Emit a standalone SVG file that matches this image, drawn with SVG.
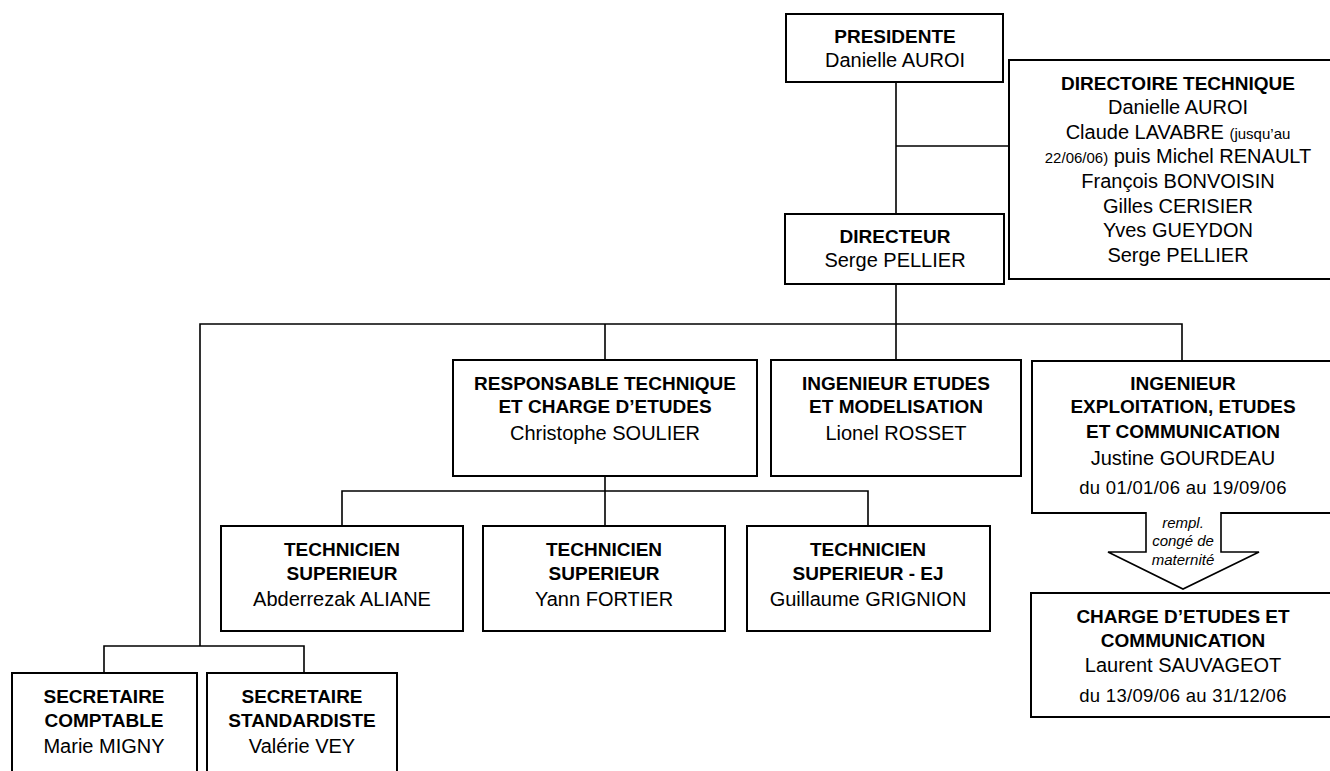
<svg xmlns="http://www.w3.org/2000/svg" width="1330" height="771" viewBox="0 0 1330 771">
<style>
  .box { fill: #fff; stroke: #000; stroke-width: 2; }
  .ln { fill: none; stroke: #000; stroke-width: 1.6; }
  text { font-family: "Liberation Sans", Arial, sans-serif; text-anchor: middle; fill: #000; }
  .b { font-weight: bold; font-size: 19px; }
  .r { font-size: 20px; }
  .d { font-size: 18.5px; letter-spacing: 0.3px; }
  .s { font-size: 15px; }
  .i { font-style: italic; font-size: 15px; }
</style>
<rect width="1330" height="771" fill="#fff"/>
<g id="connectors">
  <path class="ln" d="M896 82 V360 M896 146 H1009"/>
  <path class="ln" d="M200 646 V324 H1182 V361 M605 324 V360"/>
  <path class="ln" d="M605 476 V526 M342 526 V491 H868 V526"/>
  <path class="ln" d="M104 673 V646 H304 V673"/>
</g>
<g id="presidente">
  <rect class="box" x="786" y="14" width="217" height="68"/>
  <text class="b" x="895" y="43">PRESIDENTE</text>
  <text class="r" x="895" y="67">Danielle AUROI</text>
</g>
<g id="directoire">
  <rect class="box" x="1009" y="60" width="340" height="219"/>
  <text class="b" x="1178" y="90">DIRECTOIRE TECHNIQUE</text>
  <text class="r" x="1178" y="114">Danielle AUROI</text>
  <text class="r" x="1178" y="139">Claude LAVABRE <tspan class="s">(jusqu’au</tspan></text>
  <text class="r" x="1178" y="163"><tspan class="s">22/06/06)</tspan> puis Michel RENAULT</text>
  <text class="r" x="1178" y="188">François BONVOISIN</text>
  <text class="r" x="1178" y="213">Gilles CERISIER</text>
  <text class="r" x="1178" y="237">Yves GUEYDON</text>
  <text class="r" x="1178" y="262">Serge PELLIER</text>
</g>
<g id="directeur">
  <rect class="box" x="785" y="214" width="219" height="70"/>
  <text class="b" x="895" y="243">DIRECTEUR</text>
  <text class="r" x="895" y="267">Serge PELLIER</text>
</g>
<g id="responsable">
  <rect class="box" x="453" y="360" width="304" height="116"/>
  <text class="b" x="605" y="390">RESPONSABLE TECHNIQUE</text>
  <text class="b" x="605" y="413">ET CHARGE D’ETUDES</text>
  <text class="r" x="605" y="440">Christophe SOULIER</text>
</g>
<g id="ingenieur-etudes">
  <rect class="box" x="771" y="360" width="250" height="116"/>
  <text class="b" x="896" y="390">INGENIEUR ETUDES</text>
  <text class="b" x="896" y="413">ET MODELISATION</text>
  <text class="r" x="896" y="440">Lionel ROSSET</text>
</g>
<g id="ingenieur-exploitation">
  <rect class="box" x="1032" y="361" width="303" height="152"/>
  <text class="b" x="1183" y="390">INGENIEUR</text>
  <text class="b" x="1183" y="413">EXPLOITATION, ETUDES</text>
  <text class="b" x="1183" y="438">ET COMMUNICATION</text>
  <text class="r" x="1183" y="465">Justine GOURDEAU</text>
  <text class="d" x="1183" y="494">du 01/01/06 au 19/09/06</text>
</g>
<g id="arrow">
  <polygon points="1146,511 1146,552 1108,552 1183,589 1259,552 1221,552 1221,511" fill="#fff" stroke="none"/>
  <polyline class="ln" points="1146,512 1146,552 1108,552 1183,589 1259,552 1221,552 1221,512" stroke-width="2"/>
  <text class="i" x="1183" y="528">rempl.</text>
  <text class="i" x="1183" y="546">congé de</text>
  <text class="i" x="1183" y="565">maternité</text>
</g>
<g id="charge-etudes">
  <rect class="box" x="1031" y="593" width="304" height="124"/>
  <text class="b" x="1183" y="623">CHARGE D’ETUDES ET</text>
  <text class="b" x="1183" y="647">COMMUNICATION</text>
  <text class="r" x="1183" y="672">Laurent SAUVAGEOT</text>
  <text class="d" x="1183" y="702">du 13/09/06 au 31/12/06</text>
</g>
<g id="technicien-1">
  <rect class="box" x="221" y="526" width="242" height="105"/>
  <text class="b" x="342" y="556">TECHNICIEN</text>
  <text class="b" x="342" y="580">SUPERIEUR</text>
  <text class="r" x="342" y="606">Abderrezak ALIANE</text>
</g>
<g id="technicien-2">
  <rect class="box" x="483" y="526" width="242" height="105"/>
  <text class="b" x="604" y="556">TECHNICIEN</text>
  <text class="b" x="604" y="580">SUPERIEUR</text>
  <text class="r" x="604" y="606">Yann FORTIER</text>
</g>
<g id="technicien-3">
  <rect class="box" x="747" y="526" width="243" height="105"/>
  <text class="b" x="868" y="556">TECHNICIEN</text>
  <text class="b" x="868" y="580">SUPERIEUR - EJ</text>
  <text class="r" x="868" y="606">Guillaume GRIGNION</text>
</g>
<g id="secretaire-comptable">
  <rect class="box" x="12" y="673" width="185" height="110"/>
  <text class="b" x="104" y="703">SECRETAIRE</text>
  <text class="b" x="104" y="727">COMPTABLE</text>
  <text class="r" x="104" y="753">Marie MIGNY</text>
</g>
<g id="secretaire-standardiste">
  <rect class="box" x="207" y="673" width="190" height="110"/>
  <text class="b" x="302" y="703">SECRETAIRE</text>
  <text class="b" x="302" y="727">STANDARDISTE</text>
  <text class="r" x="302" y="753">Valérie VEY</text>
</g>
</svg>
